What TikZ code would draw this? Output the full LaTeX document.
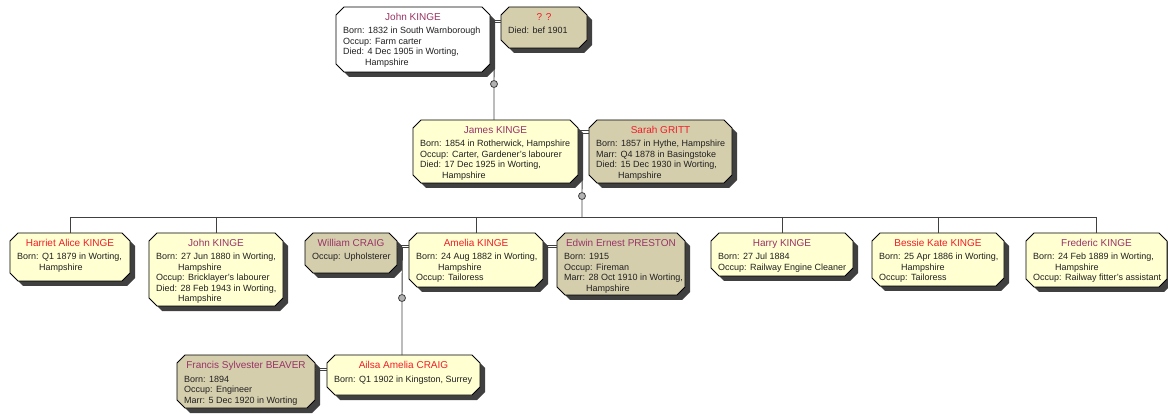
\documentclass[tikz,border=0pt]{standalone}
\usepackage{fontspec}
\setmainfont{Liberation Sans}
\usetikzlibrary{calc}
\definecolor{boxyel}{HTML}{FFFFD2}
\definecolor{boxtan}{HTML}{D5CEAD}
\definecolor{nmred}{HTML}{F01E28}
\definecolor{nmpur}{HTML}{993366}
\definecolor{shadowc}{HTML}{404040}
\definecolor{linec}{HTML}{404040}
\definecolor{detc}{HTML}{202020}
\tikzset{
  boxnode/.style={rectangle, inner sep=0pt, anchor=north west, draw=none},
  namestyle/.style={anchor=base, inner sep=0pt, font=\fontsize{10}{12}\selectfont},
  detstyle/.style={anchor=base west, inner sep=0pt, text=detc, font=\fontsize{9}{10.5}\selectfont},
  conn/.style={draw=linec, line width=0.9pt},
  knot/.style={circle, draw=linec, fill=black!30, line width=0.8pt, minimum size=7pt, inner sep=0pt}
}
\newcommand\ind{\hspace*{22pt}}
\newcommand\person[9]{%
  \fill[shadowc] (#2+13,#3+5) -- (#2+#4-3,#3+5) -- (#2+#4+5,#3+13) -- (#2+#4+5,#3+#5-3) -- (#2+#4-3,#3+#5+5) -- (#2+13,#3+#5+5) -- (#2+5,#3+#5-3) -- (#2+5,#3+13) -- cycle;
  \filldraw[fill=#6, draw=black, line width=0.9pt] (#2+8,#3) -- (#2+#4-8,#3) -- (#2+#4,#3+8) -- (#2+#4,#3+#5-8) -- (#2+#4-8,#3+#5) -- (#2+8,#3+#5) -- (#2,#3+#5-8) -- (#2,#3+8) -- cycle;
  \node[boxnode, minimum width=#4, minimum height=#5] (#1) at (#2,#3) {};
  \node[namestyle, text=#7] (#1-name) at (#2+#4/2,#3+13.5) {#8};
  \node[detstyle] (#1-text) at (#2+7,#3+27) {\parbox[t]{300pt}{#9}};
}
\begin{document}
\begin{tikzpicture}[x=1pt, y=-1pt]
\useasboundingbox (0,0) rectangle (1168,414);
% generation 1
\person{johnS}{336}{7}{154}{65}{white}{nmpur}{John KINGE}{Born: 1832 in South Warnborough\\Occup: Farm carter\\Died: 4 Dec 1905 in Worting,\\\ind Hampshire}
\person{unkn}{501}{7}{86}{41}{boxtan}{nmred}{? ?}{Died: bef 1901}
% generation 2
\person{jamesK}{413}{120}{165}{63}{boxyel}{nmpur}{James KINGE}{Born: 1854 in Rotherwick, Hampshire\\Occup: Carter, Gardener's labourer\\Died: 17 Dec 1925 in Worting,\\\ind Hampshire}
\person{sarahG}{589}{120}{143}{63}{boxtan}{nmred}{Sarah GRITT}{Born: 1857 in Hythe, Hampshire\\Marr: Q4 1878 in Basingstoke\\Died: 15 Dec 1930 in Worting,\\\ind Hampshire}
% generation 3
\person{harriet}{10}{233}{120}{48}{boxyel}{nmred}{Harriet Alice KINGE}{Born: Q1 1879 in Worting,\\\ind Hampshire}
\person{johnC}{149}{233}{134}{73}{boxyel}{nmpur}{John KINGE}{Born: 27 Jun 1880 in Worting,\\\ind Hampshire\\Occup: Bricklayer's labourer\\Died: 28 Feb 1943 in Worting,\\\ind Hampshire}
\person{william}{305}{233}{92}{40}{boxtan}{nmpur}{William CRAIG}{Occup: Upholsterer}
\person{amelia}{409}{233}{134}{54}{boxyel}{nmred}{Amelia KINGE}{Born: 24 Aug 1882 in Worting,\\\ind Hampshire\\Occup: Tailoress}
\person{edwin}{557}{233}{128}{62}{boxtan}{nmpur}{Edwin Ernest PRESTON}{Born: 1915\\Occup: Fireman\\Marr: 28 Oct 1910 in Worting,\\\ind Hampshire}
\person{harry}{711}{233}{142}{43}{boxyel}{nmpur}{Harry KINGE}{Born: 27 Jul 1884\\Occup: Railway Engine Cleaner}
\person{bessie}{872}{233}{132}{53}{boxyel}{nmred}{Bessie Kate KINGE}{Born: 25 Apr 1886 in Worting,\\\ind Hampshire\\Occup: Tailoress}
\person{frederic}{1026}{233}{141}{54}{boxyel}{nmpur}{Frederic KINGE}{Born: 24 Feb 1889 in Worting,\\\ind Hampshire\\Occup: Railway fitter's assistant}
% generation 4
\person{francis}{177}{355}{138}{53}{boxtan}{nmpur}{Francis Sylvester BEAVER}{Born: 1894\\Occup: Engineer\\Marr: 5 Dec 1920 in Worting}
\person{ailsa}{327}{355}{153}{40}{boxyel}{nmred}{Ailsa Amelia CRAIG}{Born: Q1 1902 in Kingston, Surrey}
% marriages
\draw[conn] ([shift={(0,13.7)}]johnS.north east) -- ([shift={(0,13.7)}]unkn.north west);
\draw[conn] ([shift={(0,15.9)}]johnS.north east) -- ([shift={(0,15.9)}]unkn.north west);
\draw[conn] ([shift={(0,10.8)}]jamesK.north east) -- ([shift={(0,10.8)}]sarahG.north west);
\draw[conn] ([shift={(0,13)}]jamesK.north east) -- ([shift={(0,13)}]sarahG.north west);
\draw[conn] ([shift={(0,12)}]william.north east) -- ([shift={(0,12)}]amelia.north west);
\draw[conn] ([shift={(0,14.2)}]william.north east) -- ([shift={(0,14.2)}]amelia.north west);
\draw[conn] ([shift={(0,12)}]amelia.north east) -- ([shift={(0,12)}]edwin.north west);
\draw[conn] ([shift={(0,14.2)}]amelia.north east) -- ([shift={(0,14.2)}]edwin.north west);
\draw[conn] ([shift={(0,13)}]francis.north east) -- ([shift={(0,13)}]ailsa.north west);
\draw[conn] ([shift={(0,15.5)}]francis.north east) -- ([shift={(0,15.5)}]ailsa.north west);
% descent lines
\coordinate (m1) at ([shift={(4,15.9)}]johnS.north east);
\coordinate (m2) at ([shift={(4,13)}]jamesK.north east);
\coordinate (m3) at ([shift={(5,14.2)}]william.north east);
\coordinate (sib) at (582,217);
\node[knot] (k1) at (494,84) {};
\node[knot] (k2) at (582,196) {};
\node[knot] (k3) at (402,298) {};
\draw[conn] (m1) -- (k1) -- (k1 |- jamesK.north);
\draw[conn] (m2) -- (k2) -- (sib);
\draw[conn] (m3) -- (k3) -- (k3 |- ailsa.north);
\draw[conn] (harriet.north |- sib) -- (frederic.north |- sib);
\foreach \c in {harriet, johnC, amelia, harry, bessie, frederic}
  \draw[conn] (\c.north |- sib) -- (\c.north);
\end{tikzpicture}
\end{document}
